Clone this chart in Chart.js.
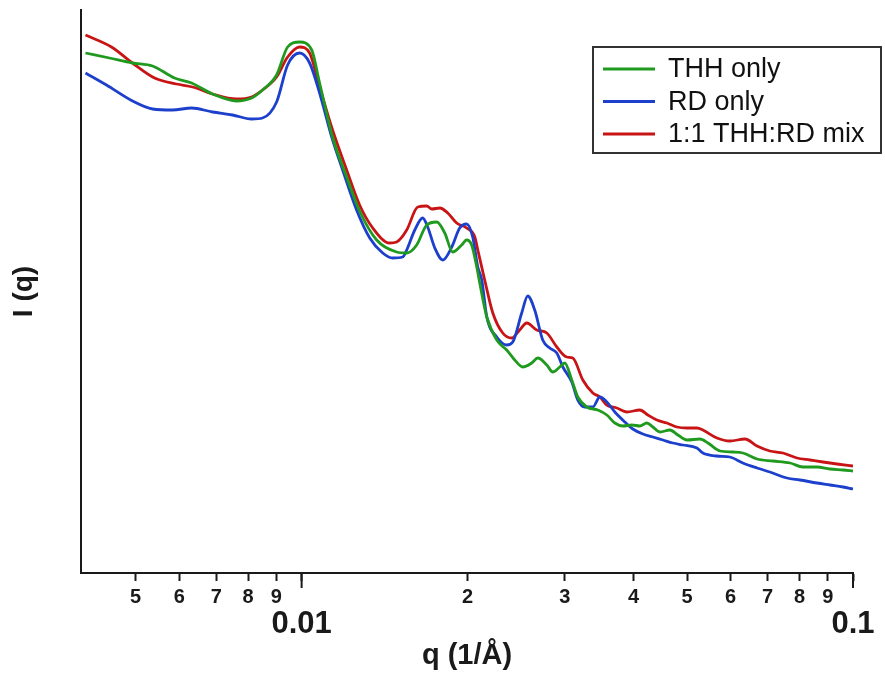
<!DOCTYPE html>
<html>
<head>
<meta charset="utf-8">
<script src="https://cdn.jsdelivr.net/npm/chart.js@4.4.0/dist/chart.umd.min.js"></script>
<style>
  html, body { margin: 0; padding: 0; background: #fff; }
  #wrap { position: relative; width: 885px; height: 673px; }
</style>
</head>
<body>
<div id="wrap"><canvas id="saxsChart"></canvas></div>
<script>
// q (1/Å) and I(q) in arbitrary units
const qThh = [0.004055, 0.004482, 0.004935, 0.005366, 0.005881, 0.006316, 0.006893, 0.007621, 0.008115, 0.008495,
  0.009008, 0.009432, 0.009917, 0.01043, 0.01078, 0.01138, 0.01207, 0.01274, 0.01368, 0.01487,
  0.01551, 0.01617, 0.01686, 0.01758, 0.01818, 0.01879, 0.01951, 0.01992, 0.02034, 0.02078,
  0.02104, 0.02167, 0.02259, 0.02355, 0.02435, 0.02518, 0.02614, 0.02681, 0.02784, 0.02855,
  0.02939, 0.03001, 0.03090, 0.03169, 0.03290, 0.03445, 0.03577, 0.03699, 0.03825, 0.03971,
  0.04106, 0.04228, 0.04335, 0.04464, 0.04655, 0.04813, 0.04997, 0.05276, 0.05456, 0.05737,
  0.06056, 0.06313, 0.06697, 0.07156, 0.07686, 0.08114, 0.08604, 0.09084, 0.09592, 0.1];
const iThh = [520, 515, 510, 507, 495, 490, 479, 472, 475, 483,
  498, 526, 531, 523, 490, 436, 396, 362, 333, 321,
  320, 328, 348, 351, 340, 321, 328, 333, 328, 306,
  290, 256, 233, 223, 213, 206, 210, 215, 208, 201,
  206, 210, 193, 176, 166, 163, 158, 150, 147, 148,
  147, 150, 146, 141, 143, 138, 133, 134, 130, 122,
  121, 120, 114, 112, 110, 106, 106, 104, 103, 102];

const qRd = [0.004055, 0.004427, 0.004935, 0.005366, 0.005832, 0.006316, 0.006893, 0.007495, 0.008115, 0.008495,
  0.009008, 0.009432, 0.009917, 0.01034, 0.01078, 0.01134, 0.01187, 0.01258, 0.01329, 0.01403,
  0.01463, 0.01525, 0.01551, 0.01604, 0.01658, 0.01693, 0.01744, 0.01803, 0.01872, 0.01935,
  0.01992, 0.02043, 0.02087, 0.02122, 0.02167, 0.02259, 0.02355, 0.02415, 0.02507, 0.02571,
  0.02647, 0.02737, 0.02819, 0.02903, 0.02977, 0.03090, 0.03169, 0.03263, 0.03374, 0.03474,
  0.03577, 0.03699, 0.03857, 0.03987, 0.04158, 0.04335, 0.04521, 0.04714, 0.04915, 0.05211,
  0.05342, 0.05665, 0.05981, 0.06313, 0.06697, 0.07067, 0.07590, 0.08013, 0.08604, 0.09084,
  0.09592, 0.1];
const iRd = [500, 488, 472, 464, 463, 465, 461, 458, 454, 455,
  471, 508, 520, 510, 480, 436, 403, 363, 335, 320,
  315, 316, 323, 343, 355, 346, 325, 313, 326, 345,
  349, 336, 306, 293, 256, 236, 228, 231, 260, 277,
  263, 233, 225, 220, 206, 191, 173, 166, 166, 176,
  171, 161, 151, 144, 139, 136, 133, 130, 128, 125,
  120, 117, 116, 110, 105, 101, 95, 93, 90, 88,
  86, 84];

const qMix = [0.004055, 0.004520, 0.004935, 0.005411, 0.005930, 0.006342, 0.006893, 0.007621, 0.008115, 0.008495,
  0.009008, 0.009432, 0.009917, 0.01034, 0.01078, 0.01138, 0.01207, 0.01274, 0.01346, 0.01445,
  0.01487, 0.01551, 0.01624, 0.01686, 0.01722, 0.01781, 0.01841, 0.01911, 0.01992, 0.02061,
  0.02087, 0.02148, 0.02222, 0.02316, 0.02405, 0.02486, 0.02560, 0.02670, 0.02784, 0.02903,
  0.03026, 0.03103, 0.03236, 0.03374, 0.03474, 0.03577, 0.03730, 0.03889, 0.04106, 0.04246,
  0.04409, 0.04597, 0.04793, 0.04997, 0.05211, 0.05342, 0.05665, 0.05981, 0.06368, 0.06697,
  0.07067, 0.07464, 0.07914, 0.08356, 0.08823, 0.09354, 0.1];
const iMix = [538, 526, 510, 495, 489, 486, 479, 474, 476, 483,
  496, 516, 526, 520, 486, 443, 403, 368, 345, 330,
  331, 343, 366, 367, 364, 365, 360, 350, 345, 336,
  323, 293, 260, 240, 235, 243, 250, 243, 240, 226,
  216, 215, 193, 180, 176, 168, 165, 161, 163, 158,
  153, 150, 146, 145, 145, 143, 135, 132, 134, 127,
  122, 120, 115, 113, 111, 109, 107];

const seriesLabels = ['THH only', 'RD only', '1:1 THH:RD mix'];
const seriesColors = ['#1f9a1f', '#1c3fcc', '#c81414'];

const xTickValues = [0.005, 0.006, 0.007, 0.008, 0.009, 0.01,
  0.02, 0.03, 0.04, 0.05, 0.06, 0.07, 0.08, 0.09, 0.1];
const xTickLabels = ['5', '6', '7', '8', '9', ['', '0.01'],
  '2', '3', '4', '5', '6', '7', '8', '9', ['', '0.1']];
const majorTicks = [0.01, 0.1];

const AXIS_FONT = "'Liberation Sans', Arial, sans-serif";
const LEGEND_FONT = "'Liberation Sans', Arial, sans-serif";
const INK = '#1a1a1a';

function toPoints(qs, is) {
  return qs.map((q, i) => ({ x: q, y: is[i] }));
}

// boxed legend in the top-right corner
const boxLegend = {
  id: 'boxLegend',
  afterDraw(chart) {
    const ctx = chart.ctx;
    const left = 593, top = 47, width = 288, height = 106;
    ctx.save();
    ctx.strokeStyle = '#333';
    ctx.lineWidth = 2;
    ctx.strokeRect(left, top, width, height);
    ctx.font = '27px ' + LEGEND_FONT;
    ctx.textBaseline = 'middle';
    ctx.fillStyle = '#111';
    chart.data.datasets.forEach((ds, i) => {
      const y = top + 22 + i * 32.5;
      ctx.strokeStyle = ds.borderColor;
      ctx.lineWidth = 3;
      ctx.beginPath();
      ctx.moveTo(left + 10, y);
      ctx.lineTo(left + 62, y);
      ctx.stroke();
      ctx.fillText(ds.label, left + 75, y + 1);
    });
    ctx.restore();
  }
};

// longer tick marks for the decades
const decadeTicks = {
  id: 'decadeTicks',
  afterDraw(chart) {
    const x = chart.scales.x;
    const ctx = chart.ctx;
    ctx.save();
    ctx.strokeStyle = INK;
    ctx.lineWidth = 2;
    majorTicks.forEach((v) => {
      const px = x.getPixelForValue(v);
      ctx.beginPath();
      ctx.moveTo(px, x.top);
      ctx.lineTo(px, x.top + 15);
      ctx.stroke();
    });
    ctx.restore();
  }
};

const datasets = [
  [qThh, iThh], [qRd, iRd], [qMix, iMix]
].map(([qs, is], i) => ({
  label: seriesLabels[i],
  data: toPoints(qs, is),
  borderColor: seriesColors[i],
  backgroundColor: seriesColors[i],
  borderWidth: 2.8,
  pointRadius: 0,
  cubicInterpolationMode: 'monotone',
  fill: false,
}));

new Chart(document.getElementById('saxsChart'), {
  type: 'line',
  data: { datasets },
  options: {
    responsive: true,
    maintainAspectRatio: false,
    animation: false,
    layout: { padding: { left: 0, right: 32, top: 10, bottom: 0 } },
    plugins: {
      legend: { display: false },
      tooltip: { enabled: false },
    },
    scales: {
      x: {
        type: 'logarithmic',
        min: 0.00398,
        max: 0.1,
        afterBuildTicks: (scale) => {
          scale.ticks = xTickValues.map((v) => ({ value: v }));
        },
        afterFit: (scale) => { scale.height = 100; },
        ticks: {
          autoSkip: false,
          maxRotation: 0,
          minRotation: 0,
          padding: 4,
          color: INK,
          callback: (v, i) => xTickLabels[i],
          font: (ctx) => majorTicks.includes(ctx.tick && ctx.tick.value)
            ? { family: AXIS_FONT, size: 31, weight: 'bold', lineHeight: 0.85 }
            : { family: AXIS_FONT, size: 20, weight: 'bold' },
        },
        grid: { drawOnChartArea: false, tickLength: 8, tickWidth: 2, tickColor: INK },
        border: { color: INK, width: 2 },
        title: {
          display: true,
          text: 'q (1/Å)',
          color: INK,
          padding: { top: 0, bottom: 0 },
          font: { family: AXIS_FONT, size: 29, weight: 'bold' },
        },
      },
      y: {
        type: 'linear',
        min: 0,
        max: 563,
        afterFit: (scale) => { scale.width = 81; },
        ticks: { display: false },
        grid: { drawOnChartArea: false, drawTicks: false },
        border: { color: INK, width: 2 },
        title: {
          display: true,
          text: 'I (q)',
          color: INK,
          padding: { top: 7, bottom: 0 },
          font: { family: AXIS_FONT, size: 28, weight: 'bold' },
        },
      },
    },
  },
  plugins: [boxLegend, decadeTicks],
});
</script>
</body>
</html>
